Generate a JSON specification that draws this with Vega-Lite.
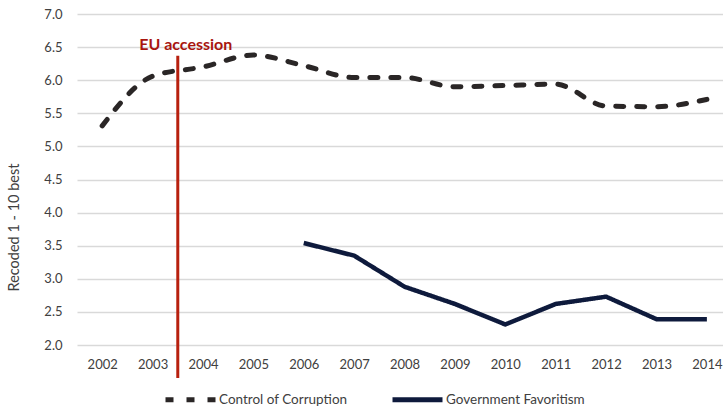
{
  "$schema": "https://vega.github.io/schema/vega-lite/v6.json",
  "width": 646,
  "height": 331,
  "autosize": "none",
  "padding": {"left": 77, "top": 14, "right": 0, "bottom": 66},
  "background": "white",
  "config": {
    "font": "Lato",
    "view": {"stroke": null},
    "axis": {"labelFont": "Lato", "labelFontSize": 13, "labelColor": "#404040", "titleFont": "Lato", "titleColor": "#404040"},
    "axisY": {"values": [2,2.5,3,3.5,4,4.5,5,5.5,6,6.5,7], "format": ".1f", "labelOverlap": false, "titleFontSize": 14.5, "titleFontWeight": "normal", "titleY": 213, "titleX": -56, "titleAlign": "center", "grid": true, "gridColor": "#d9d9d9", "gridWidth": 1.5, "ticks": false, "domain": false, "labelPadding": 15}
  },
  "datasets": {
    "series": [
      {"series": "Control of Corruption", "year": 2002, "value": 5.31},
      {"series": "Control of Corruption", "year": 2003, "value": 6.06},
      {"series": "Control of Corruption", "year": 2004, "value": 6.2},
      {"series": "Control of Corruption", "year": 2005, "value": 6.38},
      {"series": "Control of Corruption", "year": 2006, "value": 6.22},
      {"series": "Control of Corruption", "year": 2007, "value": 6.04},
      {"series": "Control of Corruption", "year": 2008, "value": 6.04},
      {"series": "Control of Corruption", "year": 2009, "value": 5.9},
      {"series": "Control of Corruption", "year": 2010, "value": 5.92},
      {"series": "Control of Corruption", "year": 2011, "value": 5.94},
      {"series": "Control of Corruption", "year": 2012, "value": 5.61},
      {"series": "Control of Corruption", "year": 2013, "value": 5.6},
      {"series": "Control of Corruption", "year": 2014, "value": 5.71},
      {"series": "Government Favoritism", "year": 2006, "value": 3.54},
      {"series": "Government Favoritism", "year": 2007, "value": 3.35},
      {"series": "Government Favoritism", "year": 2008, "value": 2.88},
      {"series": "Government Favoritism", "year": 2009, "value": 2.62},
      {"series": "Government Favoritism", "year": 2010, "value": 2.31},
      {"series": "Government Favoritism", "year": 2011, "value": 2.62},
      {"series": "Government Favoritism", "year": 2012, "value": 2.73},
      {"series": "Government Favoritism", "year": 2013, "value": 2.39},
      {"series": "Government Favoritism", "year": 2014, "value": 2.39}
    ],
    "events": [
      {"label": "EU accession", "year": 2003.5}
    ]
  },
  "encoding": {
    "x": {"field": "year", "type": "quantitative",
          "scale": {"domain": [2001.5, 2014.32], "nice": false, "zero": false},
          "axis": {"values": [2002,2003,2004,2005,2006,2007,2008,2009,2010,2011,2012,2013,2014], "format": "d", "title": null, "grid": false, "ticks": false, "domain": false, "labelPadding": 13}}
  },
  "layer": [
    {
      "data": {"name": "series"},
      "encoding": {
        "y": {"field": "value", "type": "quantitative",
              "scale": {"domain": [2, 7], "nice": false, "zero": false},
              "axis": {"title": "Recoded 1 - 10 best"}},
        "color": {"field": "series", "type": "nominal",
                  "scale": {"domain": ["Control of Corruption", "Government Favoritism"], "range": ["#2a2626", "#0e1a3c"]},
                  "legend": {"orient": "none", "legendX": 86, "legendY": 358, "direction": "horizontal", "columns": 2, "title": null, "symbolType": "stroke", "symbolSize": 2500, "symbolStrokeWidth": 5, "labelFontSize": 13.5, "labelFont": "Lato", "labelColor": "#404040", "labelOffset": 1, "columnPadding": 34}},
        "strokeDash": {"field": "series", "type": "nominal",
                       "scale": {"domain": ["Control of Corruption", "Government Favoritism"], "range": [[8, 13], [1, 0]]},
                       "legend": {"orient": "none", "legendX": 86, "legendY": 358, "direction": "horizontal", "columns": 2, "title": null, "symbolType": "stroke", "symbolSize": 2500, "symbolStrokeWidth": 5, "labelFontSize": 13.5, "labelFont": "Lato", "labelColor": "#404040", "labelOffset": 1, "columnPadding": 34}}
      },
      "layer": [
        {
          "transform": [{"filter": "datum.series === 'Control of Corruption'"}],
          "mark": {"type": "line", "interpolate": "monotone", "strokeWidth": 5, "strokeCap": "round"}
        },
        {
          "transform": [{"filter": "datum.series === 'Government Favoritism'"}],
          "mark": {"type": "line", "strokeWidth": 4.5, "strokeJoin": "round"}
        }
      ]
    },
    {
      "data": {"name": "events"},
      "mark": {"type": "rule", "color": "#b8200f", "strokeWidth": 3, "clip": false},
      "encoding": {
        "y": {"datum": 6.37, "axis": {"title": "Recoded 1 - 10 best"}},
        "y2": {"datum": 1.5}
      }
    },
    {
      "data": {"name": "events"},
      "mark": {"type": "text", "color": "#a8150f", "fontWeight": "bold", "fontSize": 16, "font": "Lato", "align": "center", "baseline": "middle", "dx": 8},
      "encoding": {
        "y": {"datum": 6.53, "axis": {"title": "Recoded 1 - 10 best"}},
        "text": {"field": "label"}
      }
    }
  ]
}
